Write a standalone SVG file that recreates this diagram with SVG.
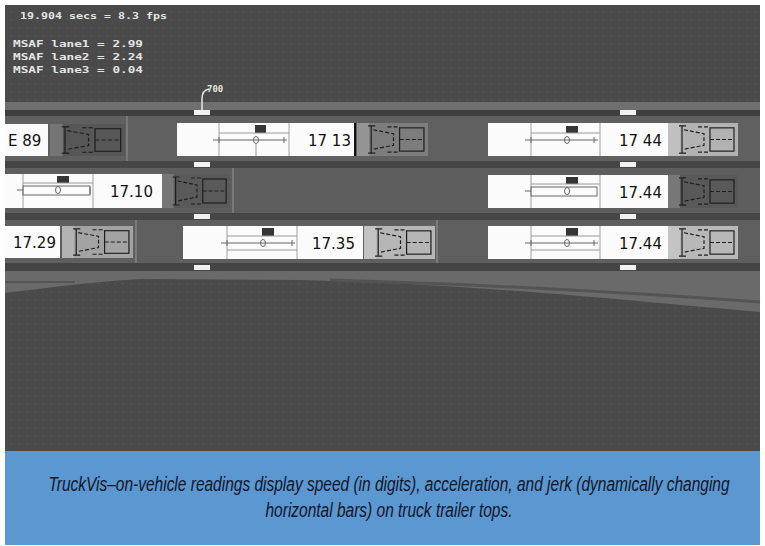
<svg xmlns="http://www.w3.org/2000/svg" xmlns:xlink="http://www.w3.org/1999/xlink" width="765" height="546" viewBox="0 0 765 546">
<style>
.trl{fill:#fbfbfb}
.sep{stroke:#a0a0a0;stroke-width:1}
.thin{stroke:#9a9a9a;stroke-width:1;fill:none}
.bar{stroke:#666;stroke-width:1;fill:none}
.sq{fill:#363636}
.num{font-family:"DejaVu Sans",sans-serif;font-size:15px;fill:#111}
.hud{font-family:"DejaVu Sans Mono",monospace;font-size:9px;font-weight:bold;fill:#e4e4e4}
.cap{font-family:"Liberation Sans",Arial,sans-serif;font-style:italic;font-size:20px;fill:#14162a;text-anchor:middle}
.mk{fill:#f2f2f2}
.edge{stroke:#7a7a7a;stroke-width:2}
.ol{stroke:#1e1e1e;stroke-width:1.2;fill:none}
.old{stroke:#1e1e1e;stroke-width:1.2;fill:none;stroke-dasharray:4 2}
</style>
<defs>
<pattern id="dots" width="8" height="8" patternUnits="userSpaceOnUse">
<rect width="8" height="8" fill="#4a4a4a"/>
<rect x="2" y="3" width="2" height="1" fill="#565656"/>
</pattern>
<symbol id="cab" viewBox="0 0 70 34" preserveAspectRatio="none">
<rect x="0" y="0" width="70" height="34"/>
<rect x="0" y="0" width="12" height="34" fill="#ffffff" fill-opacity="0.18"/>
<path class="ol" d="M14 3 V31 M11 3 H18 M11 31 H18"/>
<path class="old" d="M16 7 L36 11 L36 23 L16 27"/>
<rect class="ol" x="42" y="5" width="24" height="24"/>
<path class="old" d="M42 17 H64 M30 4 H40 M30 30 H40"/>
</symbol>
</defs>

<rect x="0" y="0" width="765" height="546" fill="#ffffff"/>

<g id="scene">
<rect x="5" y="5" width="755" height="446" fill="url(#dots)"/>
<rect x="5" y="102" width="755" height="8" fill="#6f6f6f"/>
<rect x="5" y="110" width="755" height="6" fill="#3f3f3f"/>
<rect x="5" y="116" width="755" height="45" fill="#606060"/>
<rect x="5" y="161" width="755" height="7" fill="#464646"/>
<rect x="5" y="168" width="755" height="45" fill="#5e5e5e"/>
<rect x="5" y="213" width="755" height="7" fill="#464646"/>
<rect x="5" y="220" width="755" height="43" fill="#5f5f5f"/>
<rect x="5" y="263" width="755" height="8" fill="#444444"/>
<path d="M5 271 H760 V312 C640 302 480 284 300 280 L140 279 C90 282 45 288 5 293 Z" fill="#6a6a6a"/>
<path d="M330 280 C470 284 620 292 760 302" stroke="#545454" stroke-width="3" fill="none"/>
<path d="M5 282 H75" stroke="#565656" stroke-width="2"/>
<line class="edge" x1="127" y1="116" x2="127" y2="161"/>
<line class="edge" x1="233" y1="168" x2="233" y2="213"/>
<line class="edge" x1="136" y1="220" x2="136" y2="263"/>
<line class="edge" x1="437" y1="220" x2="437" y2="263"/>
</g>

<g id="markers">
<rect class="mk" x="194" y="110" width="16" height="5"/>
<rect class="mk" x="620" y="110" width="16" height="5"/>
<rect class="mk" x="194" y="162" width="16" height="5"/>
<rect class="mk" x="620" y="162" width="16" height="5"/>
<rect class="mk" x="194" y="214" width="16" height="5"/>
<rect class="mk" x="620" y="214" width="16" height="5"/>
<rect class="mk" x="194" y="265" width="16" height="5"/>
<rect class="mk" x="620" y="265" width="16" height="5"/>
<path d="M202 110 V98 C202 93 205 90 209 89" stroke="#e8e8e8" stroke-width="1.5" fill="none"/>
<text class="hud" x="207" y="92" font-size="7">700</text>
</g>

<g id="hud">
<text class="hud" x="20" y="19" textLength="147" lengthAdjust="spacingAndGlyphs">19.904 secs = 8.3 fps</text>
<text class="hud" x="13" y="47" textLength="130" lengthAdjust="spacingAndGlyphs">MSAF lane1 = 2.99</text>
<text class="hud" x="13" y="60" textLength="130" lengthAdjust="spacingAndGlyphs">MSAF lane2 = 2.24</text>
<text class="hud" x="13" y="73" textLength="130" lengthAdjust="spacingAndGlyphs">MSAF lane3 = 0.04</text>
</g>

<g id="truck-a">
<rect class="trl" x="5" y="124" width="43" height="32"/>
<text class="num" x="8" y="146">E 89</text>
<use href="#cab" x="50" y="124" width="75" height="32" fill="#575757"/>
</g>

<g id="truck-b">
<rect class="trl" x="177" y="123" width="178" height="33"/>
<line class="sep" x1="219" y1="123" x2="219" y2="156"/>
<line class="sep" x1="289" y1="123" x2="289" y2="156"/>
<rect class="sq" x="255" y="125" width="11" height="8"/>
<line class="thin" x1="219" y1="133" x2="289" y2="133"/>
<path class="bar" d="M213 140 H287 M219 137 V143 M284 137 V143"/>
<ellipse class="bar" cx="256" cy="140" rx="2.5" ry="3.5"/>
<line class="thin" x1="256" y1="143" x2="256" y2="156"/>
<text class="num" x="308" y="146">17 13</text>
<line x1="355" y1="123" x2="355" y2="156" stroke="#111" stroke-width="2"/>
<use href="#cab" x="357" y="123" width="71" height="33" fill="#7d7d7d"/>
</g>

<g id="truck-c">
<rect class="trl" x="488" y="123" width="180" height="33"/>
<line class="sep" x1="531" y1="123" x2="531" y2="156"/>
<line class="sep" x1="600" y1="123" x2="600" y2="156"/>
<rect class="sq" x="566" y="126" width="12" height="7"/>
<line class="thin" x1="531" y1="133" x2="600" y2="133"/>
<path class="bar" d="M525 140 H598 M531 137 V143 M594 137 V143"/>
<ellipse class="bar" cx="567" cy="140" rx="2.5" ry="3.5"/>
<text class="num" x="619" y="146">17 44</text>
<use href="#cab" x="668" y="123" width="70" height="33" fill="#b2b2b2"/>
</g>

<g id="truck-d">
<rect class="trl" x="5" y="174" width="157" height="34"/>
<line class="sep" x1="23" y1="174" x2="23" y2="208"/>
<line class="sep" x1="93" y1="174" x2="93" y2="208"/>
<rect class="sq" x="57" y="176" width="12" height="7"/>
<line class="thin" x1="23" y1="183" x2="93" y2="183"/>
<rect class="bar" x="23" y="186" width="67" height="9"/>
<path class="bar" d="M17 190 H23 M90 187 V194"/>
<ellipse class="bar" cx="58" cy="190" rx="2.5" ry="3.5"/>
<text class="num" x="110" y="197">17.10</text>
<use href="#cab" x="162" y="174" width="68" height="34" fill="#5a5a5a"/>
</g>

<g id="truck-e">
<rect class="trl" x="488" y="175" width="180" height="33"/>
<line class="sep" x1="531" y1="175" x2="531" y2="208"/>
<line class="sep" x1="600" y1="175" x2="600" y2="208"/>
<rect class="sq" x="566" y="177" width="12" height="7"/>
<line class="thin" x1="531" y1="184" x2="600" y2="184"/>
<rect class="bar" x="531" y="187" width="66" height="9"/>
<path class="bar" d="M525 191 H531"/>
<ellipse class="bar" cx="567" cy="191" rx="2.5" ry="3.5"/>
<text class="num" x="619" y="198">17.44</text>
<use href="#cab" x="668" y="175" width="70" height="33" fill="#595959"/>
</g>

<g id="truck-f">
<rect class="trl" x="5" y="226" width="55" height="32"/>
<text class="num" x="13" y="248">17.29</text>
<use href="#cab" x="62" y="226" width="71" height="32" fill="#a3a3a3"/>
</g>

<g id="truck-g">
<rect class="trl" x="183" y="226" width="180" height="33"/>
<line class="sep" x1="227" y1="226" x2="227" y2="259"/>
<line class="sep" x1="297" y1="226" x2="297" y2="259"/>
<rect class="sq" x="262" y="228" width="12" height="8"/>
<line class="thin" x1="227" y1="236" x2="297" y2="236"/>
<path class="bar" d="M221 243 H295 M227 240 V246 M292 240 V246"/>
<ellipse class="bar" cx="263" cy="243" rx="2.5" ry="3.5"/>
<line class="thin" x1="227" y1="250" x2="297" y2="250"/>
<text class="num" x="312" y="249">17.35</text>
<use href="#cab" x="364" y="226" width="71" height="33" fill="#b6b6b6"/>
</g>

<g id="truck-h">
<rect class="trl" x="488" y="226" width="180" height="33"/>
<line class="sep" x1="531" y1="226" x2="531" y2="259"/>
<line class="sep" x1="600" y1="226" x2="600" y2="259"/>
<rect class="sq" x="566" y="228" width="12" height="8"/>
<line class="thin" x1="531" y1="236" x2="600" y2="236"/>
<path class="bar" d="M525 243 H598 M531 240 V246 M594 240 V246"/>
<ellipse class="bar" cx="567" cy="243" rx="2.5" ry="3.5"/>
<line class="thin" x1="531" y1="250" x2="600" y2="250"/>
<text class="num" x="619" y="249">17.44</text>
<use href="#cab" x="668" y="226" width="70" height="33" fill="#b8b8b8"/>
</g>

<g id="caption">
<rect x="5" y="451" width="755" height="94" fill="#5b97d0"/>
<g transform="translate(389,491) scale(0.775,1)">
<text class="cap" x="0" y="0">TruckVis–on-vehicle readings display speed (in digits), acceleration, and jerk (dynamically changing</text>
<text class="cap" x="0" y="26">horizontal bars) on truck trailer tops.</text>
</g>
</g>
</svg>
